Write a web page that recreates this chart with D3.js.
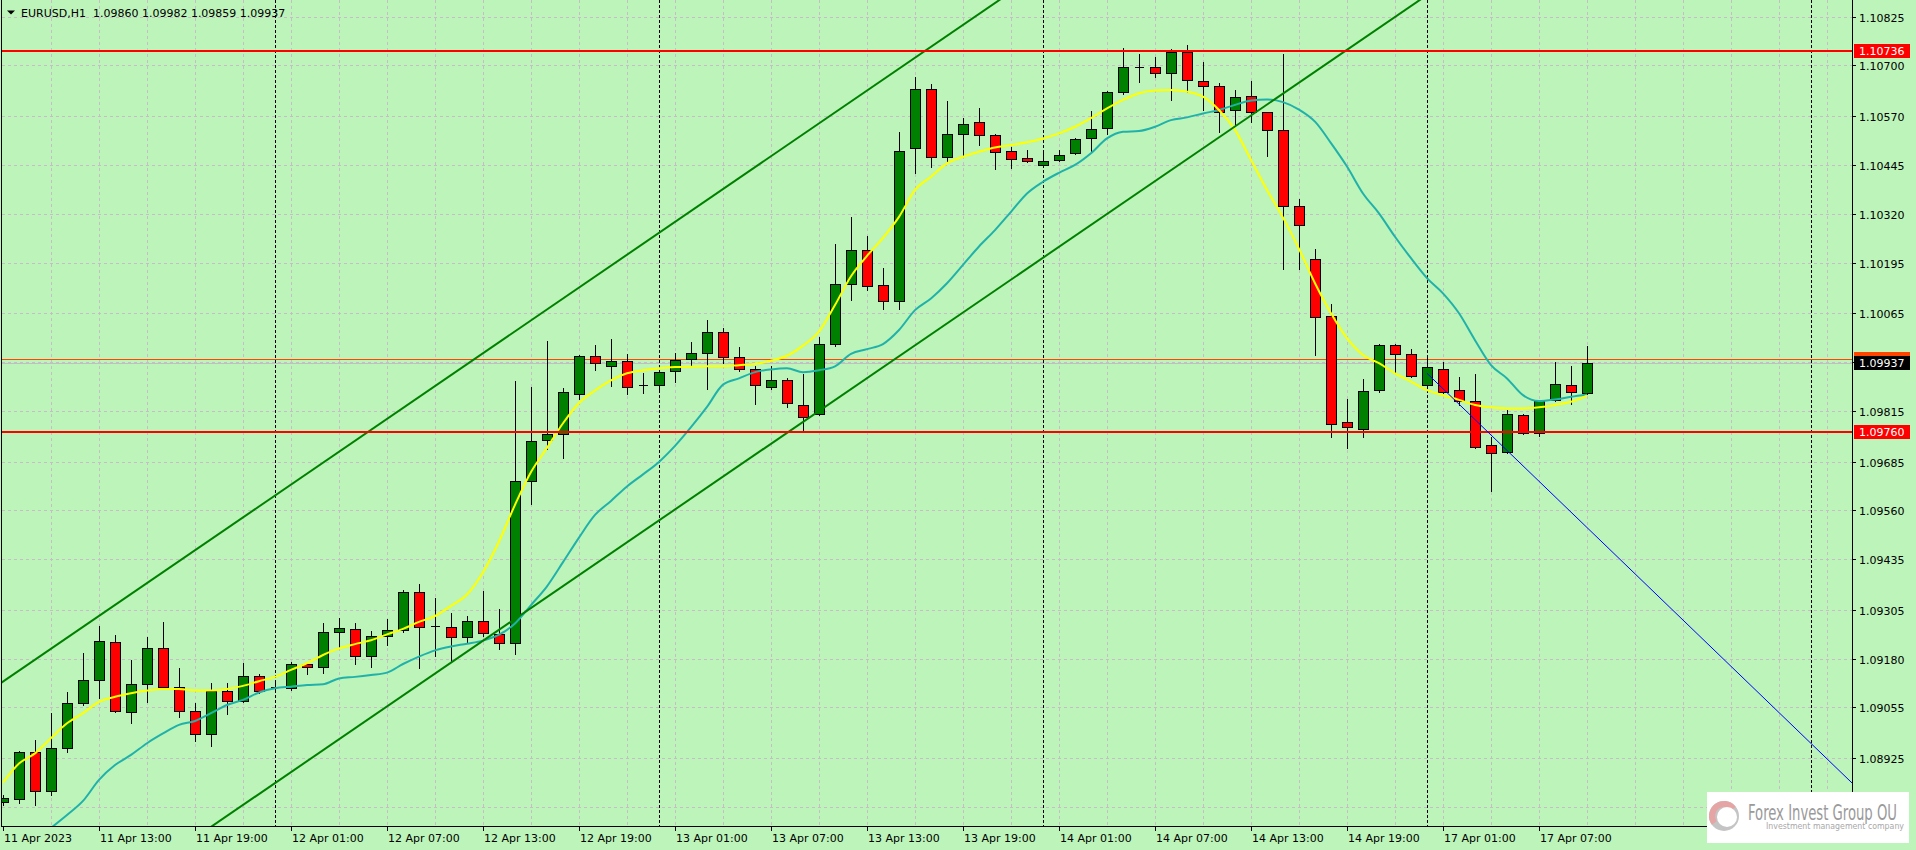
<!DOCTYPE html>
<html><head><meta charset="utf-8">
<script src="https://cdn.jsdelivr.net/npm/d3@7"></script>
<style>html,body{margin:0;padding:0;overflow:hidden;background:#bdf4b9}</style>
</head><body>
<svg id="c" width="1916" height="850"></svg>
<script>
const symbol = "EURUSD,H1";
const openP = [1.08812,1.08820,1.08940,1.08840,1.08950,1.09065,1.09124,1.09222,1.09042,1.09114,
1.09206,1.09106,1.09046,1.08986,1.09098,1.09072,1.09134,1.09102,1.09104,1.09166,
1.09158,1.09247,1.09255,1.09186,1.09237,1.09252,1.09350,1.09262,1.09260,1.09234,
1.09276,1.09244,1.09221,1.09634,1.09739,1.09755,1.09859,1.09956,1.09930,1.09942,
1.09881,1.09880,1.09917,1.09947,1.09963,1.10016,1.09954,1.09922,1.09877,1.09893,
1.09830,1.09807,1.09985,1.10139,1.10227,1.10137,1.10096,1.10488,1.10639,1.10465,
1.10524,1.10554,1.10521,1.10480,1.10462,1.10444,1.10457,1.10475,1.10513,1.10539,
1.10631,1.10697,1.10695,1.10682,1.10735,1.10659,1.10647,1.10585,1.10621,1.10580,
1.10534,1.10339,1.10203,1.10058,1.09785,1.09768,1.09868,1.09983,1.09960,1.09880,
1.09921,1.09868,1.09839,1.09727,1.09709,1.09803,1.09757,1.09842,1.09880,1.09860];
const closeP = [1.08823,1.08940,1.08840,1.08950,1.09065,1.09124,1.09224,1.09045,1.09114,1.09206,
1.09108,1.09045,1.08986,1.09098,1.09070,1.09135,1.09096,1.09106,1.09165,1.09158,
1.09247,1.09258,1.09186,1.09237,1.09252,1.09350,1.09262,1.09264,1.09234,1.09276,
1.09246,1.09221,1.09634,1.09737,1.09755,1.09863,1.09956,1.09937,1.09942,1.09877,
1.09880,1.09914,1.09945,1.09963,1.10016,1.09954,1.09922,1.09880,1.09893,1.09835,
1.09799,1.09985,1.10141,1.10227,1.10136,1.10096,1.10480,1.10639,1.10465,1.10524,
1.10549,1.10521,1.10477,1.10460,1.10454,1.10454,1.10471,1.10511,1.10536,1.10631,
1.10695,1.10695,1.10680,1.10734,1.10662,1.10647,1.10580,1.10618,1.10580,1.10535,
1.10339,1.10290,1.10055,1.09782,1.09773,1.09865,1.09983,1.09960,1.09903,1.09926,
1.09862,1.09839,1.09722,1.09706,1.09806,1.09757,1.09839,1.09883,1.09862,1.09937];
const highP = [1.08830,1.08942,1.08971,1.09040,1.09095,1.09193,1.09263,1.09240,1.09176,1.09236,
1.09274,1.09156,1.09065,1.09118,1.09117,1.09168,1.09140,1.09125,1.09172,1.09171,
1.09270,1.09283,1.09270,1.09251,1.09281,1.09356,1.09371,1.09334,1.09297,1.09289,
1.09354,1.09307,1.09892,1.09877,1.09994,1.09873,1.09959,1.09984,1.09998,1.09961,
1.09911,1.09917,1.09964,1.09992,1.10047,1.10027,1.09978,1.09930,1.09930,1.09900,
1.09908,1.10003,1.10243,1.10311,1.10262,1.10180,1.10530,1.10671,1.10653,1.10610,
1.10566,1.10591,1.10524,1.10492,1.10483,1.10477,1.10483,1.10514,1.10583,1.10634,
1.10744,1.10729,1.10721,1.10741,1.10752,1.10708,1.10654,1.10636,1.10659,1.10580,
1.10729,1.10357,1.10230,1.10089,1.09845,1.09896,1.09985,1.09985,1.09973,1.09955,
1.09939,1.09901,1.09909,1.09749,1.09817,1.09806,1.09841,1.09940,1.09930,1.09982];
const lowP = [1.08805,1.08810,1.08805,1.08830,1.08940,1.09061,1.09080,1.09043,1.09016,1.09068,
1.09104,1.09029,1.08969,1.08957,1.09037,1.09069,1.09092,1.09094,1.09099,1.09140,
1.09142,1.09210,1.09165,1.09159,1.09215,1.09247,1.09155,1.09187,1.09174,1.09223,
1.09239,1.09205,1.09192,1.09576,1.09718,1.09694,1.09846,1.09919,1.09879,1.09858,
1.09861,1.09872,1.09890,1.09930,1.09872,1.09938,1.09917,1.09833,1.09872,1.09825,
1.09762,1.09804,1.09981,1.10100,1.10125,1.10076,1.10076,1.10425,1.10439,1.10456,
1.10471,1.10496,1.10434,1.10436,1.10453,1.10441,1.10454,1.10472,1.10482,1.10524,
1.10626,1.10657,1.10670,1.10612,1.10633,1.10586,1.10530,1.10546,1.10556,1.10469,
1.10179,1.10178,1.09958,1.09747,1.09719,1.09747,1.09863,1.09915,1.09902,1.09873,
1.09860,1.09829,1.09720,1.09610,1.09706,1.09755,1.09751,1.09839,1.09832,1.09859];
const maFast = [1.08862,1.08911,1.08937,1.08976,1.09014,1.09040,1.09069,1.09082,1.09091,1.09098,
1.09102,1.09102,1.09098,1.09098,1.09102,1.09110,1.09122,1.09133,1.09151,1.09168,
1.09189,1.09206,1.09217,1.09227,1.09242,1.09256,1.09274,1.09289,1.09315,1.09344,
1.09401,1.09480,1.09574,1.09658,1.09720,1.09783,1.09835,1.09867,1.09893,1.09911,
1.09919,1.09924,1.09927,1.09928,1.09929,1.09929,1.09932,1.09935,1.09943,1.09956,
1.09982,1.10018,1.10086,1.10160,1.10212,1.10258,1.10312,1.10381,1.10415,1.10449,
1.10466,1.10479,1.10490,1.10496,1.10503,1.10513,1.10526,1.10543,1.10565,1.10590,
1.10612,1.10629,1.10636,1.10637,1.10633,1.10620,1.10586,1.10535,1.10458,1.10381,
1.10310,1.10230,1.10142,1.10065,1.10001,1.09958,1.09937,1.09911,1.09890,1.09868,
1.09855,1.09843,1.09830,1.09824,1.09821,1.09821,1.09824,1.09830,1.09838,1.09854];
const maSlow = [null,null,null,1.08746,1.08779,1.08815,1.08869,1.08907,1.08933,1.08963,
1.08988,1.09010,1.09020,1.09040,1.09061,1.09074,1.09093,1.09104,1.09108,1.09112,
1.09114,1.09129,1.09133,1.09138,1.09144,1.09166,1.09185,1.09201,1.09211,1.09218,
1.09226,1.09241,1.09270,1.09317,1.09365,1.09427,1.09490,1.09548,1.09584,1.09621,
1.09652,1.09684,1.09725,1.09773,1.09825,1.09882,1.09898,1.09914,1.09921,1.09924,
1.09914,1.09919,1.09929,1.09961,1.09973,1.09986,1.10022,1.10073,1.10103,1.10142,
1.10189,1.10236,1.10278,1.10325,1.10372,1.10402,1.10425,1.10445,1.10475,1.10513,
1.10530,1.10532,1.10543,1.10560,1.10567,1.10577,1.10586,1.10599,1.10610,1.10613,
1.10606,1.10587,1.10556,1.10501,1.10441,1.10372,1.10321,1.10261,1.10206,1.10155,
1.10116,1.10065,1.09996,1.09932,1.09898,1.09855,1.09840,1.09844,1.09851,1.09857];
const gridTicks = [1.10825,1.10700,1.10570,1.10445,1.10320,1.10195,1.10065,1.09940,1.09815,1.09685,1.09560,1.09435,1.09305,1.09180,1.09055,1.08925,1.08800];
const priceTickLabels = [1.10825,1.10700,1.10570,1.10445,1.10320,1.10195,1.10065,1.09815,1.09685,1.09560,1.09435,1.09305,1.09180,1.09055,1.08925];
const timeTickBars = [0,6,12,18,24,30,36,42,48,54,60,66,72,78,84,90,96];
const timeTickLabels = ["11 Apr 2023","11 Apr 13:00","11 Apr 19:00","12 Apr 01:00","12 Apr 07:00","12 Apr 13:00","12 Apr 19:00","13 Apr 01:00","13 Apr 07:00","13 Apr 13:00","13 Apr 19:00","14 Apr 01:00","14 Apr 07:00","14 Apr 13:00","14 Apr 19:00","17 Apr 01:00","17 Apr 07:00"];
const daySeparatorBars = [17,41,65,89,113];
const redLevels = [1.10736,1.09760];
const userLevel = 1.09947;
const bidLevel = 1.09937;
const channelUpper = [[0,1.09121],[60,1.10804]];
const channelLower = [[0,1.08384],[80,1.10628]];
const blueRay = [[89,1.09911],[110,1.09081]];

const W=1916,H=850,PL=2,PR=1852,PT=0,PB=826;
const BG="#bdf4b9", GRID="#c9bcc9", FONT="'DejaVu Sans', sans-serif";
const x = d3.scaleLinear().domain([0,99]).range([3,1587]);
const y = d3.scaleLinear().domain([1.087508,1.108627]).range([826,2]);
const svg = d3.select('#c');
svg.append('rect').attr('width',W).attr('height',H).attr('fill',BG);
svg.append('defs').append('clipPath').attr('id','plot').append('rect')
  .attr('x',PL).attr('y',PT).attr('width',PR-PL).attr('height',PB-PT);
const g = svg.append('g').attr('clip-path','url(#plot)');
const ry = v => Math.round(y(v));

// grid
gridTicks.forEach(v=>{
  g.append('line').attr('x1',PL).attr('x2',PR).attr('y1',ry(v)+0.5).attr('y2',ry(v)+0.5)
   .attr('stroke',GRID).attr('stroke-dasharray','3,3');
});
for(let b=3;x(b)<PR;b+=3){
  g.append('line').attr('x1',x(b)+0.5).attr('x2',x(b)+0.5).attr('y1',PT).attr('y2',PB)
   .attr('stroke',GRID).attr('stroke-dasharray','3,3');
}
daySeparatorBars.forEach(b=>{
  g.append('line').attr('x1',x(b)+0.5).attr('x2',x(b)+0.5).attr('y1',PT).attr('y2',PB)
   .attr('stroke','#000').attr('stroke-dasharray','3,2');
});

// bid + user level
g.append('line').attr('x1',PL).attr('x2',PR).attr('y1',ry(bidLevel)+0.5).attr('y2',ry(bidLevel)+0.5).attr('stroke','#c0c0c0');
g.append('line').attr('x1',PL).attr('x2',PR).attr('y1',ry(userLevel)+0.5).attr('y2',ry(userLevel)+0.5).attr('stroke','#ff4500');

// candles
const bars = d3.range(openP.length);
bars.forEach(i=>{
  const cx = x(i), o=openP[i], c=closeP[i];
  g.append('line').attr('x1',cx+0.5).attr('x2',cx+0.5).attr('y1',ry(highP[i])).attr('y2',ry(lowP[i])+1).attr('stroke','#000');
  if(Math.abs(o-c)<0.00005){
    g.append('line').attr('x1',cx-4).attr('x2',cx+5).attr('y1',ry(c)+0.5).attr('y2',ry(c)+0.5).attr('stroke','#000');
  } else {
    const t=ry(Math.max(o,c)), b=ry(Math.min(o,c));
    g.append('rect').attr('x',cx-4.5).attr('y',t+0.5).attr('width',10).attr('height',Math.max(b-t,1))
     .attr('fill', c>o ? '#008000' : '#ff0000').attr('stroke','#000');
  }
});

// moving averages
const ln = d3.line().defined(d=>d!=null).x((d,i)=>x(i)).y(d=>y(d)).curve(d3.curveMonotoneX);
g.append('path').attr('d',ln(maSlow)).attr('fill','none').attr('stroke','#20b2aa').attr('stroke-width',2);
g.append('path').attr('d',ln(maFast)).attr('fill','none').attr('stroke','#ffff00').attr('stroke-width',2);

// channel & trend lines (extended through their anchors)
function extLine(a, from, to){
  const s=(a[1][1]-a[0][1])/(a[1][0]-a[0][0]);
  return [[from, a[0][1]+s*(from-a[0][0])],[to, a[0][1]+s*(to-a[0][0])]];
}
const pl = d3.line().x(d=>x(d[0])).y(d=>y(d[1]));
g.append('path').attr('d',pl(extLine(channelUpper,-2,125))).attr('stroke','#008000').attr('stroke-width',2).attr('fill','none');
g.append('path').attr('d',pl(extLine(channelLower,-2,125))).attr('stroke','#008000').attr('stroke-width',2).attr('fill','none');
redLevels.forEach(v=>{
  g.append('line').attr('x1',PL).attr('x2',PR).attr('y1',ry(v)).attr('y2',ry(v)).attr('stroke','#ff0000').attr('stroke-width',2);
});
g.append('path').attr('d',pl(extLine(blueRay,blueRay[0][0],125))).attr('stroke','#0000ff').attr('stroke-width',1).attr('fill','none');

// frame / axes
svg.append('line').attr('x1',1.5).attr('x2',1.5).attr('y1',0).attr('y2',PB).attr('stroke','#000');
svg.append('line').attr('x1',PR+0.5).attr('x2',PR+0.5).attr('y1',0).attr('y2',PB+1).attr('stroke','#000');
svg.append('line').attr('x1',1).attr('x2',PR+1).attr('y1',PB+0.5).attr('y2',PB+0.5).attr('stroke','#000');

// price axis
gridTicks.forEach(v=>{
  const yy=ry(v)+0.5;
  svg.append('line').attr('x1',PR).attr('x2',PR+4).attr('y1',yy).attr('y2',yy).attr('stroke','#000');
});
priceTickLabels.forEach(v=>{
  const yy=ry(v)+0.5;
  svg.append('text').attr('x',PR+7).attr('y',yy+4).attr('font-family',FONT).attr('font-size',11).attr('fill','#000').text(v.toFixed(5));
});
function priceLabel(v,bg,fg,withText){
  const yy=ry(v);
  svg.append('rect').attr('x',PR+2).attr('y',yy-7).attr('width',56).attr('height',14).attr('fill',bg);
  if(withText) svg.append('text').attr('x',PR+7).attr('y',yy+4).attr('font-family',FONT).attr('font-size',11).attr('fill',fg).text(v.toFixed(5));
}
priceLabel(userLevel,'#ff4500','#000',false);
priceLabel(bidLevel,'#000','#fff',true);
redLevels.forEach(v=>priceLabel(v,'#ff0000','#fff',true));

// time axis
timeTickBars.forEach((b,k)=>{
  svg.append('line').attr('x1',x(b)+0.5).attr('x2',x(b)+0.5).attr('y1',PB).attr('y2',PB+5).attr('stroke','#000');
  svg.append('text').attr('x',x(b)+1).attr('y',842).attr('font-family',FONT).attr('font-size',11).attr('fill','#000').text(timeTickLabels[k]);
});

// title
const last=openP.length-1;
svg.append('path').attr('d','M7,10.5 L15,10.5 L11,14.5 Z').attr('fill','#000');
svg.append('text').attr('x',21).attr('y',17).attr('font-family',FONT).attr('font-size',11).attr('fill','#000')
  .attr('xml:space','preserve')
  .text(symbol+"  "+[openP[last],highP[last],lowP[last],closeP[last]].map(v=>v.toFixed(5)).join(' '));

// logo
const lg=svg.append('g');
lg.append('rect').attr('x',1707).attr('y',792).attr('width',202).attr('height',51).attr('fill','#fff');
lg.append('circle').attr('cx',1724).attr('cy',816).attr('r',15).attr('fill','#c4c4c4');
lg.append('path').attr('d',d3.arc()({innerRadius:9,outerRadius:15,startAngle:-2.2,endAngle:0.9})).attr('transform','translate(1724,816)').attr('fill','#e6a5a5');
lg.append('circle').attr('cx',1727).attr('cy',817).attr('r',10).attr('fill','#fff');
lg.append('text').attr('x',1748).attr('y',820).attr('font-family',"'DejaVu Sans Condensed','Liberation Sans Narrow','DejaVu Sans',sans-serif")
  .attr('font-size',21).attr('fill','#9a9a9a').attr('textLength',149).attr('lengthAdjust','spacingAndGlyphs').text('Forex Invest Group OU');
lg.append('text').attr('x',1766).attr('y',829).attr('font-family',FONT)
  .attr('font-size',8).attr('fill','#a8a8a8').attr('textLength',138).attr('lengthAdjust','spacingAndGlyphs').text('Investment management company');
</script>
</body></html>
